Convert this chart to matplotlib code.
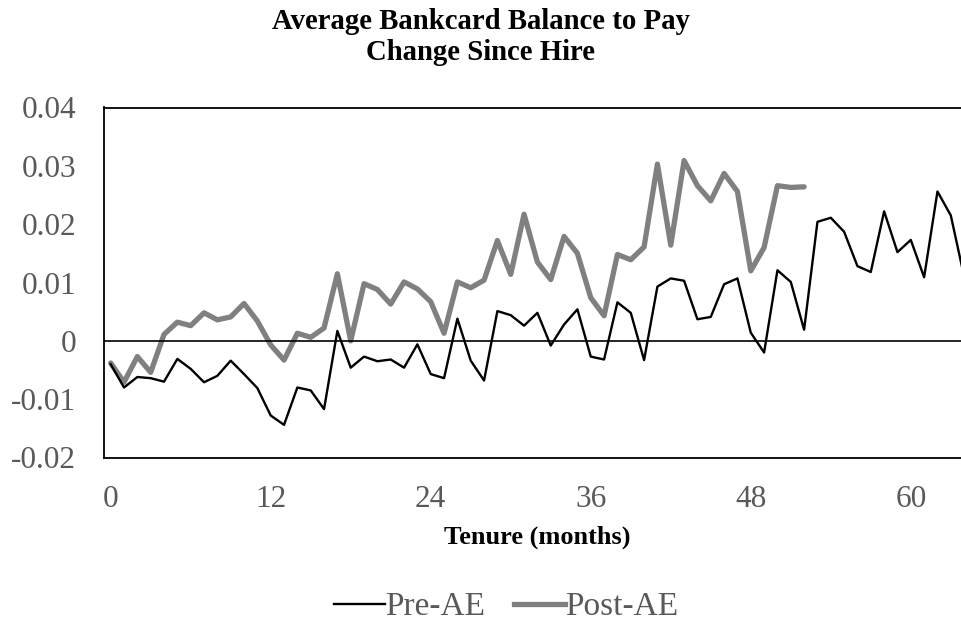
import matplotlib
matplotlib.use("Agg")
import matplotlib.pyplot as plt
from matplotlib.lines import Line2D

plt.rcParams['font.family'] = ['Liberation Serif', 'DejaVu Serif']

title = "Average Bankcard Balance to Pay\nChange Since Hire"
xlabel = "Tenure (months)"
series_names = ["Pre-AE", "Post-AE"]
xticks = [0, 12, 24, 36, 48, 60]
yticks = [-0.02, -0.01, 0, 0.01, 0.02, 0.03, 0.04]
ytick_labels = ["-0.02", "-0.01", "0", "0.01", "0.02", "0.03", "0.04"]

pre_ae = [-0.0040, -0.0080, -0.0062, -0.0064, -0.0070, -0.0031, -0.0048, -0.0071,
          -0.0060, -0.0034, -0.0057, -0.0081, -0.0128, -0.0144, -0.0080, -0.0085,
          -0.0117, 0.0017, -0.0046, -0.0027, -0.0035, -0.0032, -0.0046, -0.0006,
          -0.0057, -0.0064, 0.0038, -0.0034, -0.0068, 0.0051, 0.0044, 0.0026,
          0.0048, -0.0008, 0.0028, 0.0054, -0.0027, -0.0032, 0.0066, 0.0048,
          -0.0033, 0.0093, 0.0107, 0.0103, 0.0037, 0.0041, 0.0097, 0.0107,
          0.0014, -0.0020, 0.0121, 0.0101, 0.0019, 0.0204, 0.0211, 0.0187,
          0.0128, 0.0118, 0.0222, 0.0152, 0.0173, 0.0109, 0.0256, 0.0215, 0.0110]

post_ae = [-0.0038, -0.0071, -0.0027, -0.0054, 0.0011, 0.0032, 0.0026, 0.0048,
           0.0036, 0.0041, 0.0064, 0.0034, -0.0007, -0.0033, 0.0013, 0.0006,
           0.0022, 0.0115, 0.0000, 0.0098, 0.0088, 0.0063, 0.0101, 0.0089,
           0.0067, 0.0013, 0.0101, 0.0091, 0.0104, 0.0172, 0.0114, 0.0217,
           0.0135, 0.0105, 0.0179, 0.0150, 0.0074, 0.0043, 0.0148, 0.0139,
           0.0161, 0.0303, 0.0164, 0.0309, 0.0266, 0.0240, 0.0287, 0.0256,
           0.0120, 0.0160, 0.0266, 0.0263, 0.0264]

W, H = 962, 625
fig = plt.figure(figsize=(W / 100, H / 100), dpi=100)
ax = fig.add_axes([104 / W, 1 - 457.5 / H, 1 - 104 / W, 350 / H])

gray = '#808080'
tick_col = '#595959'

ax.plot(range(len(pre_ae)), pre_ae, color='black', lw=1.7, solid_joinstyle='round', zorder=3)
ax.plot(range(len(post_ae)), post_ae, color=gray, lw=3.8, solid_joinstyle='round',
        solid_capstyle='round', zorder=2)
ax.axhline(0, color='black', lw=1.2, zorder=4)

ax.set_xlim(-0.5, 63.84)
ax.set_ylim(-0.02, 0.04)
ax.set_xticks(xticks)
ax.set_xticklabels([str(t) for t in xticks])
ax.set_yticks(yticks)
ax.set_yticklabels(ytick_labels)
ax.tick_params(length=0, labelsize=22.5, labelcolor=tick_col)
ax.tick_params(axis='y', pad=20)
ax.tick_params(axis='x', pad=19.5)

for s in ['left', 'top', 'bottom']:
    ax.spines[s].set_color('black')
    ax.spines[s].set_linewidth(1.3)
ax.spines['right'].set_visible(False)

fig.text(481 / W, 1 - 37 / H, title, ha='center', va='center', fontsize=20.7,
         fontweight='bold', linespacing=1.2)
fig.text(537 / W, 1 - 537 / H, xlabel, ha='center', va='center', fontsize=19,
         fontweight='bold')

handles = [Line2D([0], [0], color='black', lw=1.7),
           Line2D([0], [0], color=gray, lw=3.8)]
fig.legend(handles, series_names, loc='center', bbox_to_anchor=(506 / W, 1 - 607 / H),
           ncol=2, frameon=False, fontsize=24, labelcolor=tick_col,
           handlelength=1.55, handletextpad=0.0, columnspacing=0.85,
           borderpad=0.1)

fig.savefig('out.png', dpi=100)
